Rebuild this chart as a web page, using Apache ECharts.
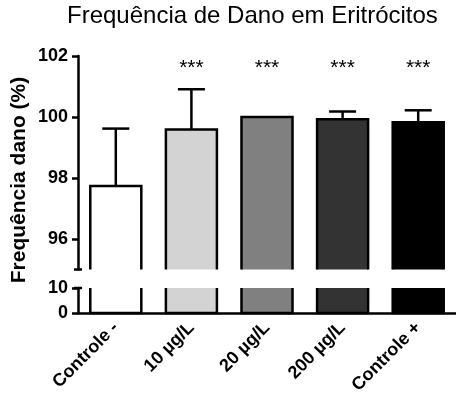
<!DOCTYPE html>
<html><head><meta charset="utf-8">
<script src="https://cdn.jsdelivr.net/npm/echarts@6/dist/echarts.min.js"></script>
<style>html,body{margin:0;padding:0;background:#fff}#c{width:456px;height:407px}</style>
</head><body><div id="c"></div>
<script>
const categories = ['Controle -', '10 µg/L', '20 µg/L', '200 µg/L', 'Controle +'];
const means = [97.74, 99.59, 100.0, 99.93, 99.83];
const errors = [1.88, 1.32, 0, 0.25, 0.39];
const barColors = ['#ffffff', '#d3d3d3', '#808080', '#333333', '#000000'];
const sigLabels = ['', '***', '***', '***', '***'];
const sigLevel = 101.6;
const upperTicks = [96, 98, 100, 102];
const lowerTicks = [0, 10];
const upperRange = [95, 102];
const lowerRange = [0, 10];

const FONT = "'Liberation Sans', Arial, sans-serif";
const L = 78, W = 385;
const upTop = 56, upH = 213.5, loTop = 288, loH = 25;
const LW = 2.5;

function barRender(segment) {
  return function (params, api) {
    const i = api.value(0), v = api.value(1);
    const lo = segment === 'upper' ? upperRange[0] : lowerRange[0];
    const hi = segment === 'upper' ? v : lowerRange[1];
    const p1 = api.coord([i, hi]);
    const p0 = api.coord([i, lo]);
    const w = api.size([1, 0])[0] * 0.675;
    const l = p1[0] - w / 2, r = p1[0] + w / 2;
    const pts = segment === 'upper'
      ? [[l, p0[1]], [l, p1[1]], [r, p1[1]], [r, p0[1]]]
      : [[l, p1[1]], [l, p0[1]], [r, p0[1]], [r, p1[1]]];
    return {
      type: 'group',
      children: [
        { type: 'rect', shape: { x: l, y: p1[1], width: w, height: p0[1] - p1[1] },
          style: { fill: barColors[i], stroke: null } },
        { type: 'polyline', shape: { points: pts },
          style: { fill: null, stroke: '#000', lineWidth: LW } }
      ]
    };
  };
}

function errRender(params, api) {
  const i = api.value(0), v = api.value(1), e = api.value(2);
  if (!(e > 0)) return null;
  const a = api.coord([i, v]);
  const b = api.coord([i, v + e]);
  const hw = 13.5;
  return {
    type: 'group',
    children: [
      { type: 'line', shape: { x1: a[0], y1: a[1], x2: b[0], y2: b[1] }, style: { stroke: '#000', lineWidth: LW } },
      { type: 'line', shape: { x1: b[0] - hw, y1: b[1], x2: b[0] + hw, y2: b[1] }, style: { stroke: '#000', lineWidth: LW } }
    ]
  };
}

function sigRender(params, api) {
  const i = api.value(0);
  const p = api.coord([i, api.value(1)]);
  return { type: 'text', x: p[0], y: p[1],
    style: { text: sigLabels[i], fill: '#000', font: '21px ' + FONT, align: 'center', verticalAlign: 'middle' } };
}

const chart = echarts.init(document.getElementById('c'), null, { renderer: 'canvas' });
chart.setOption({
  animation: false,
  backgroundColor: '#fff',
  title: { text: 'Frequência de Dano em Eritrócitos', left: 67, top: 4, padding: 0,
    textStyle: { fontFamily: FONT, fontSize: 24, fontWeight: 'normal', color: '#000' } },
  grid: [
    { left: L, top: upTop, width: W, height: upH, containLabel: false },
    { left: L, top: loTop, width: W, height: loH, containLabel: false }
  ],
  xAxis: [
    { gridIndex: 0, type: 'category', data: categories, show: false },
    { gridIndex: 1, type: 'category', data: categories,
      axisLine: { lineStyle: { color: '#000', width: LW } },
      axisTick: { alignWithLabel: true, length: 6, lineStyle: { color: '#000', width: LW } },
      axisLabel: { rotate: 45, margin: 12, color: '#000', fontFamily: FONT, fontWeight: 'bold', fontSize: 18, interval: 0 } }
  ],
  yAxis: [
    { gridIndex: 0, type: 'value', min: upperRange[0], max: upperRange[1],
      axisLine: { show: true, lineStyle: { color: '#000', width: LW } },
      axisTick: { show: true, customValues: upperTicks, length: 6, lineStyle: { color: '#000', width: LW } },
      axisLabel: { customValues: upperTicks, margin: 10, color: '#000', fontFamily: FONT, fontWeight: 'bold', fontSize: 18 },
      splitLine: { show: false } },
    { gridIndex: 1, type: 'value', min: lowerRange[0], max: lowerRange[1],
      axisLine: { show: true, lineStyle: { color: '#000', width: LW } },
      axisTick: { show: true, customValues: lowerTicks, length: 6, lineStyle: { color: '#000', width: LW } },
      axisLabel: { customValues: lowerTicks, margin: 10, color: '#000', fontFamily: FONT, fontWeight: 'bold', fontSize: 18 },
      splitLine: { show: false } }
  ],
  graphic: [
    { type: 'text', x: 19, y: 180, rotation: Math.PI / 2,
      style: { text: 'Frequência dano (%)', font: 'bold 21px ' + FONT, fill: '#000', align: 'center', verticalAlign: 'middle' } },
    { type: 'line', shape: { x1: L - 4, y1: upTop + upH, x2: L + 4, y2: upTop + upH }, style: { stroke: '#000', lineWidth: LW } },
    { type: 'line', shape: { x1: L - 4, y1: loTop, x2: L + 4, y2: loTop }, style: { stroke: '#000', lineWidth: LW } }
  ],
  series: [
    { type: 'custom', xAxisIndex: 0, yAxisIndex: 0, renderItem: barRender('upper'),
      data: means.map((v, i) => [i, v]), z: 2 },
    { type: 'custom', xAxisIndex: 1, yAxisIndex: 1, renderItem: barRender('lower'),
      data: means.map((v, i) => [i, v]), z: 2 },
    { type: 'custom', xAxisIndex: 0, yAxisIndex: 0, renderItem: errRender,
      data: means.map((v, i) => [i, v, errors[i]]), z: 3 },
    { type: 'custom', xAxisIndex: 0, yAxisIndex: 0, renderItem: sigRender,
      data: sigLabels.map((s, i) => [i, sigLevel]), z: 3 }
  ]
});
</script></body></html>
